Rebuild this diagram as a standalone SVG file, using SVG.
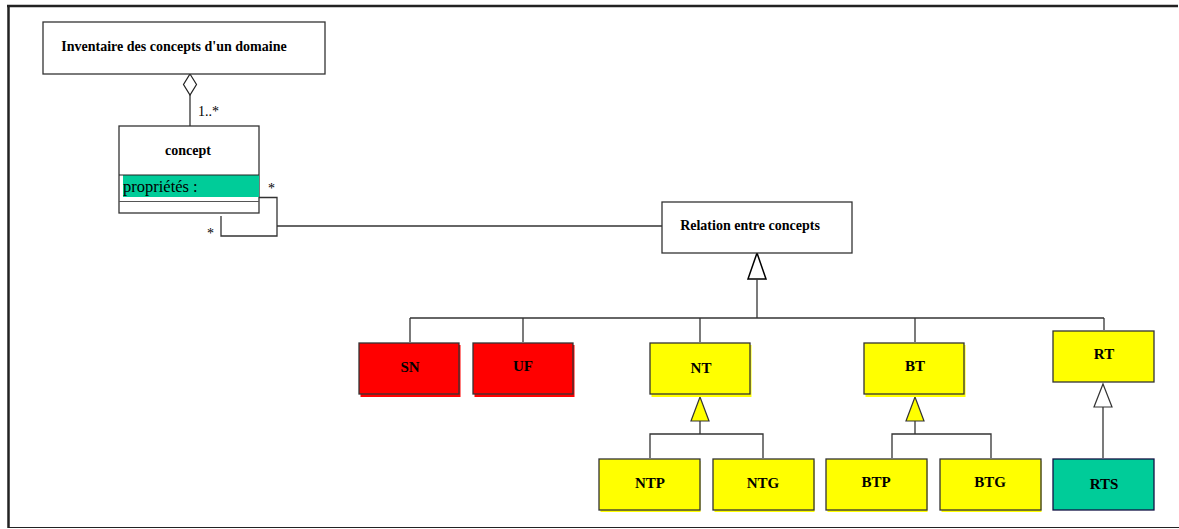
<svg xmlns="http://www.w3.org/2000/svg" width="1179" height="529" viewBox="0 0 1179 529">
<style>
.box{stroke:#333;stroke-width:1.3}
.w{fill:#fff}
.red{fill:#ff0000}
.yel{fill:#ffff00}
.teal{fill:#00cc99}
.lbl{font-family:"Liberation Serif",serif;font-weight:bold;font-size:15px;text-anchor:middle;fill:#000}
.ln{fill:none;stroke:#333;stroke-width:1.3}
.t{font-family:"Liberation Serif",serif;font-size:14px;fill:#000}
</style>
<rect x="0" y="0" width="1179" height="529" fill="#fff"/>
<g id="frame">
<line x1="7" y1="6" x2="1178" y2="6" stroke="#222" stroke-width="2.5"/>
<line x1="8.5" y1="5" x2="8.5" y2="528" stroke="#222" stroke-width="2.5"/>
<line x1="8" y1="527.5" x2="1179" y2="527.5" stroke="#222" stroke-width="1.2"/>
</g>
<g id="connectors">
<polygon points="190,74 196.5,84.5 190,95 183.5,84.5" fill="#fff" stroke="#222" stroke-width="1.2"/>
<line class="ln" x1="190" y1="95" x2="190" y2="126"/>
<text class="t" x="198" y="116">1..*</text>
<polyline class="ln" points="259,197.5 277,197.5 277,236 221,236 221,216"/>
<line class="ln" x1="277" y1="226" x2="662" y2="226"/>
<text class="t" x="268" y="193">*</text>
<text class="t" x="207" y="238">*</text>
<polygon points="757,253 766,279 748,279" fill="#fff" stroke="#000" stroke-width="1.5"/>
<line class="ln" x1="757" y1="279" x2="757" y2="318" stroke="#000"/>
<line class="ln" x1="410" y1="318" x2="1104" y2="318" stroke="#000"/>
<line class="ln" x1="410" y1="318" x2="410" y2="342"/>
<line class="ln" x1="523" y1="318" x2="523" y2="342"/>
<line class="ln" x1="700" y1="318" x2="700" y2="342"/>
<line class="ln" x1="915" y1="318" x2="915" y2="342"/>
<line class="ln" x1="1104" y1="318" x2="1104" y2="330"/>
<polygon points="700,397 709,421 691,421" fill="#ffff00" stroke="#333" stroke-width="1.2"/>
<line class="ln" x1="700" y1="421" x2="700" y2="434"/>
<polyline class="ln" points="650,458 650,434 763,434 763,458"/>
<polygon points="915,397 924,421 906,421" fill="#ffff00" stroke="#333" stroke-width="1.2"/>
<line class="ln" x1="915" y1="421" x2="915" y2="434"/>
<polyline class="ln" points="892,458 892,434 991,434 991,458"/>
<polygon points="1103,384 1112,407 1094,407" fill="#fff" stroke="#333" stroke-width="1.2"/>
<line class="ln" x1="1103" y1="407" x2="1103" y2="458"/>
</g>
<g id="inventaire">
<rect class="box w" x="43" y="22" width="282" height="52"/>
<text class="lbl" x="174" y="51" style="font-size:14px">Inventaire des concepts d'un domaine</text>
</g>
<g id="concept">
<rect class="box w" x="119" y="126" width="140" height="87"/>
<rect x="123" y="175" width="136" height="22" fill="#00cc99"/>
<line x1="119" y1="175" x2="259" y2="175" stroke="#222" stroke-width="1"/>
<line x1="119" y1="201.5" x2="259" y2="201.5" stroke="#555" stroke-width="1"/>
<text class="lbl" x="188" y="155" style="font-size:14px">concept</text>
<text x="123" y="192" style="font-family:'Liberation Serif',serif;font-size:16.5px;fill:#000">propriétés :</text>
</g>
<g id="relation">
<rect class="box w" x="662" y="202" width="190" height="51"/>
<text class="lbl" x="750" y="230" style="font-size:14px">Relation entre concepts</text>
</g>
<g id="SN">
<rect x="360.5" y="345" width="100" height="52" fill="#ff0000"/>
<rect class="box red" x="359" y="343" width="100" height="51"/>
<text class="lbl" x="410" y="372">SN</text>
</g>
<g id="UF">
<rect x="474.5" y="345" width="100" height="52" fill="#ff0000"/>
<rect class="box red" x="473" y="343" width="100" height="51"/>
<text class="lbl" x="523" y="371">UF</text>
</g>
<g id="NT">
<rect x="651.5" y="345" width="100" height="52" fill="#ffff00"/>
<rect class="box yel" x="650" y="343" width="100" height="51"/>
<text class="lbl" x="701" y="373">NT</text>
</g>
<g id="BT">
<rect x="865.5" y="345" width="100" height="52" fill="#ffff00"/>
<rect class="box yel" x="864" y="343" width="100" height="51"/>
<text class="lbl" x="915" y="371">BT</text>
</g>
<g id="RT">
<rect class="box yel" x="1053" y="331" width="101" height="51"/>
<text class="lbl" x="1104" y="359">RT</text>
</g>
<g id="NTP">
<rect x="600.5" y="461" width="100" height="51" fill="#ffff00"/>
<rect class="box yel" x="599" y="459" width="101" height="51"/>
<text class="lbl" x="650" y="488">NTP</text>
</g>
<g id="NTG">
<rect x="714.5" y="461" width="100" height="51" fill="#ffff00"/>
<rect class="box yel" x="713" y="459" width="101" height="51"/>
<text class="lbl" x="763" y="488">NTG</text>
</g>
<g id="BTP">
<rect x="827.5" y="461" width="100" height="51" fill="#ffff00"/>
<rect class="box yel" x="826" y="459" width="101" height="51"/>
<text class="lbl" x="876" y="487">BTP</text>
</g>
<g id="BTG">
<rect x="941.5" y="461" width="100" height="51" fill="#ffff00"/>
<rect class="box yel" x="940" y="459" width="101" height="51"/>
<text class="lbl" x="990" y="487">BTG</text>
</g>
<g id="RTS">
<rect class="teal" x="1053" y="459" width="101" height="51" stroke="#114" stroke-width="1.3"/>
<text class="lbl" x="1104" y="489">RTS</text>
</g>
</svg>
